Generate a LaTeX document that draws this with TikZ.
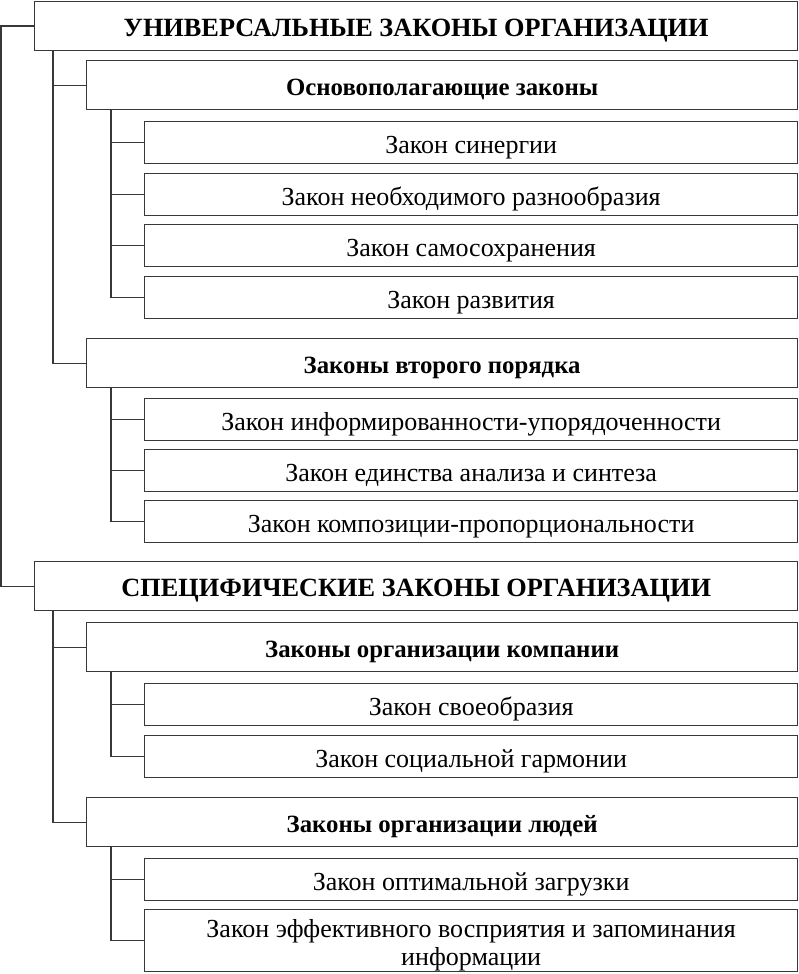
\documentclass[tikz,border=0pt]{standalone}
\usepackage{fontspec}
\setmainfont{Liberation Serif}
\begin{document}
\begin{tikzpicture}[x=1pt,y=-1pt,
  box/.style={draw=black!78, line width=1.3pt, fill=white, inner sep=0pt, align=center, anchor=north west, text depth=0pt},
  top/.style={box, minimum width=763pt, minimum height=49pt, text height=20pt, font=\fontsize{26.3}{29}\selectfont\bfseries},
  mid/.style={box, minimum width=711pt, minimum height=49pt, text height=21pt, font=\fontsize{24.8}{28}\selectfont\bfseries},
  leaf/.style={box, minimum width=653pt, minimum height=42pt, text height=21pt, font=\fontsize{26}{28}\selectfont},
  conn/.style={draw=black!78, line width=1.3pt}]
\useasboundingbox (0,0) rectangle (798,974);
\node[top] (u0) at (34,1) {УНИВЕРСАЛЬНЫЕ ЗАКОНЫ ОРГАНИЗАЦИИ};
\node[mid] (u1) at (86,60) {Основополагающие законы};
\node[leaf] (a1) at (144,121) {Закон синергии};
\node[leaf] (a2) at (144,173) {Закон необходимого разнообразия};
\node[leaf] (a3) at (144,224) {Закон самосохранения};
\node[leaf] (a4) at (144,276) {Закон развития};
\node[mid] (u2) at (86,338) {Законы второго порядка};
\node[leaf] (b1) at (144,398) {Закон информированности-упорядоченности};
\node[leaf] (b2) at (144,449) {Закон единства анализа и синтеза};
\node[leaf] (b3) at (144,500) {Закон композиции-пропорциональности};
\node[top] (s0) at (34,561) {СПЕЦИФИЧЕСКИЕ ЗАКОНЫ ОРГАНИЗАЦИИ};
\node[mid] (s1) at (86,622) {Законы организации компании};
\node[leaf] (c1) at (144,683) {Закон своеобразия};
\node[leaf] (c2) at (144,735) {Закон социальной гармонии};
\node[mid] (s2) at (86,797) {Законы организации людей};
\node[leaf] (d1) at (144,858) {Закон оптимальной загрузки};
\node[leaf, minimum height=62pt, text height=49pt] (d2) at (144,909) {Закон эффективного восприятия и запоминания\\информации};
\coordinate (T0) at (1,0);
\coordinate (T1) at (53,0);
\coordinate (T2) at (111,0);
\draw[conn] (u0.west) -- (u0.west -| T0) -- (s0.west -| T0) -- (s0.west);
\draw[conn] (u0.south -| T1) -- (u2.west -| T1) -- (u2.west);
\draw[conn] (u1.west -| T1) -- (u1.west);
\draw[conn] (u1.south -| T2) -- (a4.west -| T2) -- (a4.west);
\draw[conn] (a1.west -| T2) -- (a1.west);
\draw[conn] (a2.west -| T2) -- (a2.west);
\draw[conn] (a3.west -| T2) -- (a3.west);
\draw[conn] (u2.south -| T2) -- (b3.west -| T2) -- (b3.west);
\draw[conn] (b1.west -| T2) -- (b1.west);
\draw[conn] (b2.west -| T2) -- (b2.west);
\draw[conn] (s0.south -| T1) -- (s2.west -| T1) -- (s2.west);
\draw[conn] (s1.west -| T1) -- (s1.west);
\draw[conn] (s1.south -| T2) -- (c2.west -| T2) -- (c2.west);
\draw[conn] (c1.west -| T2) -- (c1.west);
\draw[conn] (s2.south -| T2) -- (d2.west -| T2) -- (d2.west);
\draw[conn] (d1.west -| T2) -- (d1.west);
\end{tikzpicture}
\end{document}
